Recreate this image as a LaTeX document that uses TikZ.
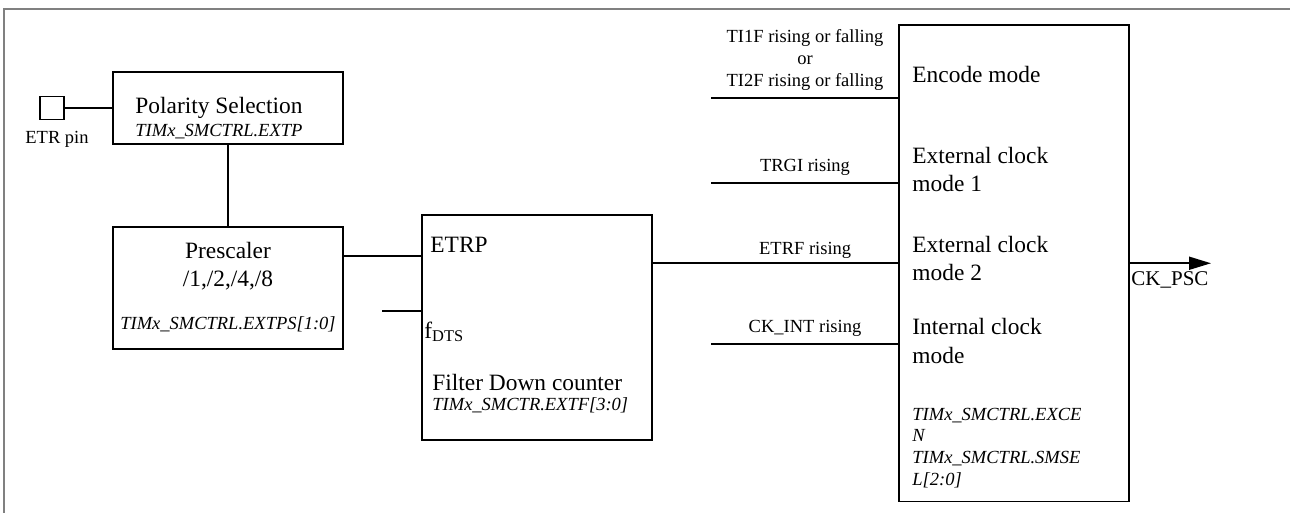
\documentclass[tikz,border=0pt]{standalone}
\usepackage{fontspec}
\setmainfont{Liberation Serif}
\usetikzlibrary{arrows.meta,positioning,calc}

\begin{document}
\begin{tikzpicture}[
        x=0.5pt, y=-0.5pt,
        node distance=41.5pt,
        box/.style={draw, line width=0.9pt, outer sep=0pt, inner sep=0pt},
        wire/.style={line width=0.9pt},
        big/.style={inner sep=0pt, align=left, font=\fontsize{11.7}{14}\selectfont},
        lbl/.style={inner sep=0pt, align=center, font=\fontsize{9.25}{11}\selectfont},
        reg/.style={inner sep=0pt, align=left, font=\fontsize{9.25}{10.8}\selectfont\itshape}]
        \useasboundingbox (0,0) rectangle (1290,513);
        \draw[gray, line width=1pt] (4,513) -- (4,9) -- (1290,9);

        % ETR pin and polarity
        \node[box, minimum width=12pt, minimum height=11.5pt] (pin) at (52,108) {};
        \node[lbl] (pinlbl) at (57,139) {ETR pin};
        \node[box, minimum width=115pt, minimum height=36pt] (pol) at (228,108) {};
        \node[big, anchor=base west] (poltxt) at (135,114) {Polarity Selection};
        \node[reg, anchor=base west] (polreg) at (135,137) {TIMx\_SMCTRL.EXTP};

        % prescaler
        \node[box, minimum width=115pt, minimum height=61pt, below=of pol] (presc) {};
        \node[big, anchor=base] (prtxt) at ($(presc.north)+(0,31)$) {Prescaler};
        \node[big, anchor=base] (prdiv) at ($(presc.north)+(0,59)$) {/1,/2,/4,/8};
        \node[reg, anchor=base] (prreg) at ($(presc.north)+(0,102)$) {TIMx\_SMCTRL.EXTPS[1:0]};

        % filter
        \node[box, minimum width=115pt, minimum height=112.5pt] (filt) at (537,327.5) {};
        \node[big, anchor=base west] (etrp) at (430,253) {ETRP};
        \node[big, anchor=base west] (fdtstxt) at (424,338) {f\textsubscript{DTS}};
        \node[big, anchor=base west] (filttxt) at (432,390) {Filter Down counter};
        \node[reg, anchor=base west] (filtreg) at (432,410) {TIMx\_SMCTR.EXTF[3:0]};

        % slave mode controller (base = last line)
        \node[box, minimum width=115pt, minimum height=238.25pt] (mode) at (1014,263.25) {};
        \node[big, anchor=base west] (enc) at (912,83) {Encode mode};
        \node[big, anchor=base west] (ext1) at (912,192) {External clock\\mode 1};
        \node[big, anchor=base west] (ext2) at (912,281) {External clock\\mode 2};
        \node[big, anchor=base west] (intm) at (912,363) {Internal clock\\mode};
        \node[reg, anchor=base west] (modereg) at (912,485) {TIMx\_SMCTRL.EXCE\\N\\TIMx\_SMCTRL.SMSE\\L[2:0]};

        \coordinate (etrpin) at ($(filt.north west)+(0,41)$);
        \coordinate (fdts) at (382,311);
        \coordinate (inenc) at (711,98);
        \coordinate (intrgi) at (711,183);
        \coordinate (inint) at (711,344);
        \coordinate (ckout) at (1211,263);

        \draw[wire] (pin) -- (pol);
        \draw[wire] (pol) -- (presc);
        \draw[wire] (presc.east |- etrpin) -- (etrpin);
        \draw[wire] (fdts) -- (filt.west |- fdts);
        \draw[wire] (inenc) -- (mode.west |- inenc)
          node[lbl, midway, above=3.5pt] {TI1F rising or falling\\or\\TI2F rising or falling};
        \draw[wire] (intrgi) -- (mode.west |- intrgi)
          node[lbl, midway, above=3.5pt] {TRGI rising};
        \draw[wire] (filt.east |- mode.west) -- (mode.west)
          node[lbl, pos=0.62, above=2pt] {ETRF rising};
        \draw[wire] (inint) -- (mode.west |- inint)
          node[lbl, midway, above=3.5pt] {CK\_INT rising};
        \draw[wire, -{Triangle[length=11pt, width=6.5pt]}] (mode.east) -- (ckout |- mode.east);
        \node[anchor=base west, inner sep=0pt, font=\fontsize{10.5}{12}\selectfont] (ckpsc) at ($(mode.east)+(2,22)$) {CK\_PSC};
      \end{tikzpicture}
\end{document}
